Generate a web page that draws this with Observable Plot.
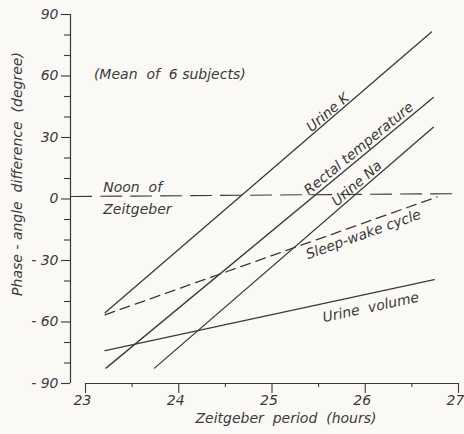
<!DOCTYPE html>
<html>
<head>
<meta charset="utf-8">
<script src="https://cdn.jsdelivr.net/npm/d3@7"></script>
<script src="https://cdn.jsdelivr.net/npm/@observablehq/plot@0.6"></script>
<style>
  html, body { margin: 0; padding: 0; background: #faf9f5; }
  #chart svg { display: block; }
</style>
</head>
<body>
<div id="chart"></div>
<script>
// Tick values
const xMajorTicks = [23, 24, 25, 26, 27];
const xMinorTicks = [23.5, 24.5, 25.5, 26.5];
const yMajorTicks = [-90, -60, -30, 0, 30, 60, 90];
const yMinorTicks = [-80, -70, -50, -40, -20, -10, 10, 20, 40, 50, 70, 80];

// Regression lines (end points)
const seriesNames = ["Urine K", "Rectal temperature", "Urine Na", "Sleep-wake cycle", "Urine volume"];
const seriesX = [[23.21, 26.71], [23.22, 26.73], [23.74, 26.73], [23.21, 26.77], [23.21, 26.74]];
const seriesY = [[-55.5, 81.5], [-82.5, 49.5], [-82.5, 35], [-56.5, 1], [-74, -39.3]];
const seriesDashed = [false, false, false, true, false];

// Line labels
const labelText = ["Urine K", "Rectal temperature", "Urine Na", "Sleep-wake cycle", "Urine  volume"];
const labelX = [25.60, 25.93, 25.91, 25.98, 26.06];
const labelY = [42.2, 24.6, 7.6, -17.3, -52.9];
const labelRotate = [-40.8, -39.5, -40.7, -19.9, -12.2];

// Noon reference line
const noonX = [22.84, 26.96];
const noonY = [1.2, 2.6];

const solid = [], dashed = [];
seriesNames.forEach((name, i) => {
  const target = seriesDashed[i] ? dashed : solid;
  seriesX[i].forEach((x, j) => target.push({name, x, y: seriesY[i][j]}));
});
const noon = noonX.map((x, i) => ({x, y: noonY[i]}));
const labels = labelText.map((name, i) => ({name, x: labelX[i], y: labelY[i], r: labelRotate[i]}));

const ink = "#3a3a3a";
const fmtY = d => d < 0 ? "- " + (-d) : String(d);

const chart = Plot.plot({
  width: 464,
  height: 434,
  marginLeft: 85,
  marginRight: 6,
  marginTop: 14,
  marginBottom: 51,
  x: {domain: [23, 27]},
  y: {domain: [-90, 90]},
  style: {background: "transparent", fontFamily: "DejaVu Sans", fontStyle: "italic", fontSize: "14px", color: ink, whiteSpace: "pre"},
  marks: [
    // y axis
    Plot.ruleX([23], {y1: -90, y2: 90, dx: -15, stroke: ink, strokeWidth: 1.2}),
    Plot.axisY(yMajorTicks, {dx: -15, tickSize: 9, tickPadding: 3, tickFormat: fmtY, label: null, stroke: ink, fill: ink, strokeWidth: 1.1, fontSize: 14}),
    Plot.axisY(yMinorTicks, {dx: -15, tickSize: 6, tickFormat: () => "", label: null, stroke: ink, strokeWidth: 1.1}),
    // x axis
    Plot.ruleY([-90], {x1: 23, x2: 27, stroke: ink, strokeWidth: 1.2}),
    Plot.axisX(xMajorTicks, {tickSize: 10, tickFormat: () => "", label: null, stroke: ink, strokeWidth: 1.1}),
    Plot.axisX(xMinorTicks, {tickSize: 4, tickFormat: () => "", label: null, stroke: ink, strokeWidth: 1.1}),
    Plot.text(xMajorTicks, {x: d => d, text: d => String(d), frameAnchor: "bottom", dy: 21, dx: -3, fill: ink, fontSize: 14}),
    // axis titles
    Plot.text(["Phase - angle  difference  (degree)"], {frameAnchor: "left", textAnchor: "middle", dx: -68, dy: -25, rotate: -90, fill: ink, fontSize: 14, letterSpacing: 0.6}),
    Plot.text(["Zeitgeber  period  (hours)"], {frameAnchor: "bottom", dx: 14, dy: 39, fill: ink, fontSize: 14, letterSpacing: 1.3}),
    // noon line
    Plot.line(noon, {x: "x", y: "y", stroke: ink, strokeWidth: 1.1, strokeDasharray: "21,9"}),
    Plot.text(["Noon  of"], {x: 23.19, y: 5.8, textAnchor: "start", fill: ink}),
    Plot.text(["Zeitgeber"], {x: 23.19, y: -5.2, textAnchor: "start", fill: ink}),
    Plot.text(["(Mean  of  6 subjects)"], {x: 23.09, y: 60.7, textAnchor: "start", fill: ink, letterSpacing: 0.7}),
    // series
    Plot.line(solid, {x: "x", y: "y", z: "name", stroke: ink, strokeWidth: 1.3}),
    Plot.line(dashed, {x: "x", y: "y", z: "name", stroke: ink, strokeWidth: 1.3, strokeDasharray: "10,6"}),
    Plot.text(labels, {x: "x", y: "y", text: "name", rotate: "r", fill: ink, letterSpacing: 0.3})
  ]
});

document.getElementById("chart").appendChild(chart);
</script>
</body>
</html>
